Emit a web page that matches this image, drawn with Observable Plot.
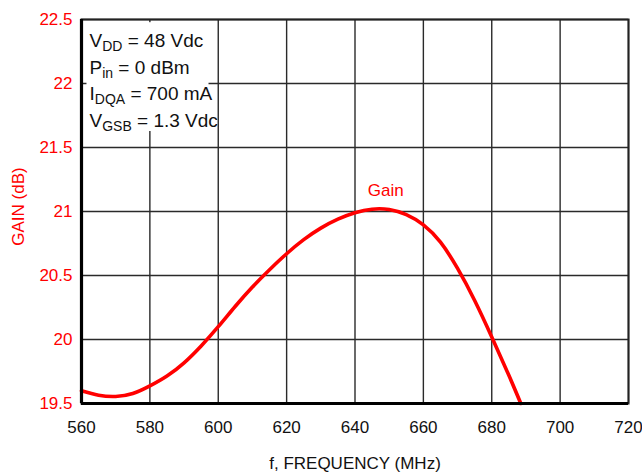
<!DOCTYPE html>
<html>
<head>
<meta charset="utf-8">
<script src="https://cdn.jsdelivr.net/npm/d3@7"></script>
<script src="https://cdn.jsdelivr.net/npm/@observablehq/plot@0.6"></script>
<style>
html, body { margin: 0; padding: 0; background: #fff; }
#chart svg { display: block; }
</style>
</head>
<body>
<div id="chart"></div>
<script>
// ---- data ----
const freq = [560, 565, 570, 575, 580, 585, 590, 595, 600, 605, 610, 615, 620, 625, 630, 635, 640, 645, 650, 655, 660, 665, 670, 675, 680, 685, 688.5];
const gain = [19.60, 19.565, 19.555, 19.578, 19.638, 19.715, 19.818, 19.95, 20.10, 20.26, 20.41, 20.545, 20.67, 20.78, 20.87, 20.94, 20.99, 21.018, 21.015, 20.975, 20.895, 20.76, 20.555, 20.305, 20.02, 19.72, 19.50];
const xTicks = [560, 580, 600, 620, 640, 660, 680, 700, 720];
const xTickLabels = ["560", "580", "600", "620", "640", "660", "680", "700", "720"];
const yTicks = [19.5, 20, 20.5, 21, 21.5, 22, 22.5];
const yTickLabels = ["19.5", "20", "20.5", "21", "21.5", "22", "22.5"];
const seriesLabel = "Gain";
const conditionMain = ["V", "P", "I", "V"];
const conditionSub = ["DD", "in", "DQA", "GSB"];
const conditionRest = [" = 48 Vdc", " = 0 dBm", " = 700 mA", " = 1.3 Vdc"];
const xLabel = "f, FREQUENCY (MHz)";
const yLabel = "GAIN (dB)";

const data = freq.map((f, i) => ({ f, g: gain[i] }));
const RED = "#ff0000";
const FONT = "'Liberation Sans', Arial, Helvetica, sans-serif";

const chart = Plot.plot({
  width: 642,
  height: 474,
  marginLeft: 81,
  marginRight: 14,
  marginTop: 19,
  marginBottom: 71,
  style: { fontFamily: FONT, fontSize: "17px", background: "#fff", overflow: "visible" },
  x: { domain: [560, 720], label: null },
  y: { domain: [19.5, 22.5], label: null },
  marks: [
    Plot.gridX(xTicks, { stroke: "#2a2a2a", strokeOpacity: 1, strokeWidth: 1.4 }),
    Plot.gridY(yTicks, { stroke: "#2a2a2a", strokeOpacity: 1, strokeWidth: 1.4 }),
    // white knock-out box behind the conditions text
    Plot.rect([0], { x1: () => 561.6, x2: () => 597.3, y1: () => 21.625, y2: () => 22.475, fill: "#fff" }),
    Plot.line(data, { x: "f", y: "g", stroke: RED, strokeWidth: 3.6, curve: "natural" }),
    Plot.frame({ stroke: "#222", strokeWidth: 2 }),
    Plot.ruleX([560], { stroke: "#000", strokeWidth: 3.2 }),
    Plot.ruleY([19.5], { stroke: "#000", strokeWidth: 3.2 }),
    Plot.axisX(xTicks, {
      tickSize: 0, tickPadding: 17, fill: "#111", fontSize: 17, label: null,
      tickFormat: d => xTickLabels[xTicks.indexOf(d)]
    }),
    Plot.axisY(yTicks, {
      tickSize: 0, tickPadding: 9, fill: RED, fontSize: 17, label: null,
      tickFormat: d => yTickLabels[yTicks.indexOf(d)]
    }),
    Plot.text([seriesLabel], { x: () => 649, y: () => 21.125, text: d => d, fill: RED, fontSize: 17, lineAnchor: "bottom" }),
    Plot.text([xLabel], { frameAnchor: "bottom", dy: 60, text: d => d, fill: "#111", fontSize: 17, textAnchor: "middle", lineAnchor: "middle" }),
    Plot.text([yLabel], { frameAnchor: "left", dx: -63, dy: -5, rotate: -90, text: d => d, fill: RED, fontSize: 17, textAnchor: "middle", lineAnchor: "middle" })
  ]
});

document.getElementById("chart").appendChild(chart);

// conditions annotation with subscripts, positioned through Plot's scales
const sx = chart.scale("x"), sy = chart.scale("y");
const g = d3.select(chart).append("g")
  .attr("font-family", FONT)
  .attr("font-size", 19)
  .attr("text-anchor", "start")
  .attr("fill", "#111");
conditionMain.forEach((m, i) => {
  const t = g.append("text")
    .attr("x", sx.apply(560) + 8.5)
    .attr("y", sy.apply(22.5) + 28 + i * 26.7);
  t.append("tspan").text(m);
  t.append("tspan").attr("font-size", 14).attr("dy", 4).text(conditionSub[i]);
  t.append("tspan").attr("dy", -4).text(conditionRest[i]);
});
</script>
</body>
</html>
